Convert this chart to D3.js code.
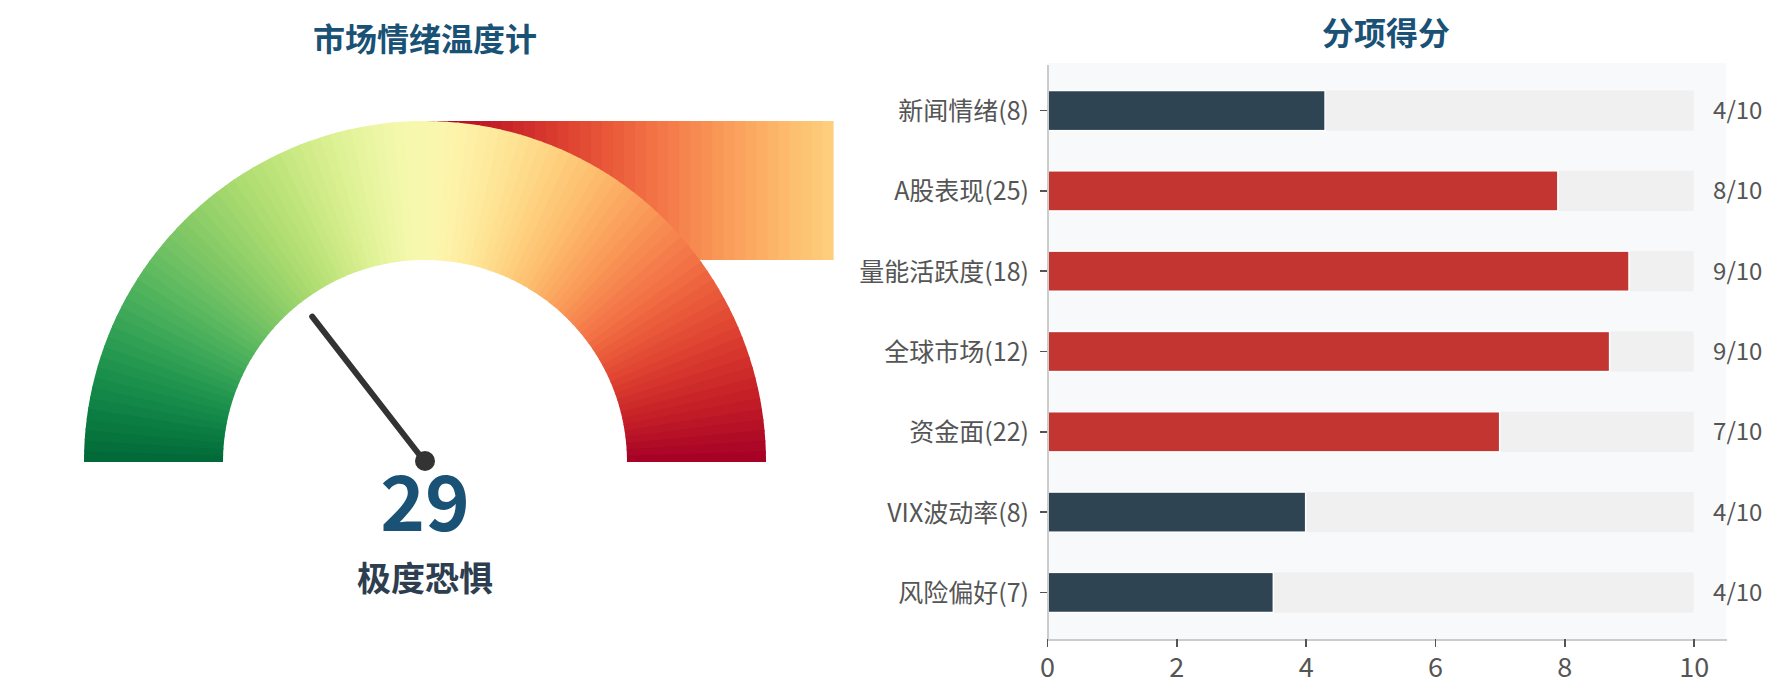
<!DOCTYPE html>
<meta charset="utf-8">

<style>
body {
  margin: 0;
  background: #fff;
  font-family: "Microsoft YaHei", "Noto Sans CJK SC", "Noto Sans", sans-serif;
}
.axis path, .axis line {
  shape-rendering: crispEdges;
}
</style>

<script src="https://d3js.org/d3.v7.min.js"></script>

<script>
  // gauge
  var score = 29;
  var moodLabel = "极度恐惧";

  // sub scores
  var categories = ["新闻情绪(8)", "A股表现(25)", "量能活跃度(18)", "全球市场(12)", "资金面(22)", "VIX波动率(8)", "风险偏好(7)"];
  var values = [4.3, 7.9, 9.0, 8.7, 7.0, 4.0, 3.5];
  var scoreLabels = ["4/10", "8/10", "9/10", "9/10", "7/10", "4/10", "4/10"];
  var xTicks = [0, 2, 4, 6, 8, 10];
</script>

<body>
  <svg id="chart" width="1780" height="700"></svg>
  <script>
    var svg = d3.select("#chart");

    // ---------- gauge ----------
    var cx = 425, cy = 462, outerR = 341, innerR = 202;
    var g = svg.append("g").attr("transform", "translate(" + cx + "," + cy + ")");

    var angle = d3.scaleLinear().domain([0, 100]).range([-Math.PI / 2, Math.PI / 2]);
    var color = function(v) { return d3.interpolateRdYlGn(1 - v / 100); };
    var segs = d3.range(100);

    // the odd strip that sits behind the right half of the dial
    var stripX = d3.scaleLinear().domain([100, 63]).range([0, 408]);
    g.selectAll("rect.strip")
      .data(d3.range(63, 100))
      .enter().append("rect")
      .attr("class", "strip")
      .attr("x", d => stripX(d + 1))
      .attr("y", -outerR)
      .attr("width", d => stripX(d) - stripX(d + 1) + 0.6)
      .attr("height", outerR - innerR)
      .attr("fill", d => color(d + 0.5));

    var arc = d3.arc().innerRadius(innerR).outerRadius(outerR);
    g.selectAll("path.seg")
      .data(segs)
      .enter().append("path")
      .attr("class", "seg")
      .attr("d", d => arc({startAngle: angle(d), endAngle: angle(Math.min(d + 1.15, 100))}))
      .attr("fill", d => color(d + 0.5));

    var a = angle(score), needleLen = 184;
    g.append("line")
      .attr("x1", 0).attr("y1", 0)
      .attr("x2", needleLen * Math.sin(a))
      .attr("y2", -needleLen * Math.cos(a))
      .attr("stroke", "#333").attr("stroke-width", 6).attr("stroke-linecap", "round");
    g.append("circle").attr("r", 10).attr("cy", -1).attr("fill", "#333");

    g.append("text").attr("y", 69).attr("text-anchor", "middle")
      .style("font-size", "76px").style("font-weight", "bold").style("fill", "#1a5276")
      .text(score);
    g.append("text").attr("y", 129).attr("text-anchor", "middle")
      .style("font-size", "34px").style("font-weight", "bold").style("fill", "#2c3e50")
      .text(moodLabel);

    svg.append("text").attr("x", cx).attr("y", 51).attr("text-anchor", "middle")
      .style("font-size", "32px").style("font-weight", "bold").style("fill", "#1a5276")
      .text("市场情绪温度计");

    // ---------- bars ----------
    var plotL = 1047, plotR = 1726, plotT = 64, plotB = 639;
    var x = d3.scaleLinear().domain([0, 10.5]).range([plotL, plotR]);
    var y = d3.scaleBand().domain(categories).range([plotT, plotB]).paddingInner(0.5).paddingOuter(0.33);

    svg.append("text").attr("x", 1386).attr("y", 45).attr("text-anchor", "middle")
      .style("font-size", "32px").style("font-weight", "bold").style("fill", "#1a5276")
      .text("分项得分");

    svg.append("rect").attr("x", plotL).attr("y", plotT - 1).attr("width", plotR - plotL).attr("height", plotB - plotT + 1)
      .attr("fill", "#f8f9fb");

    svg.selectAll("rect.track")
      .data(categories)
      .enter().append("rect")
      .attr("class", "track")
      .attr("x", x(0)).attr("y", d => y(d))
      .attr("width", x(10) - x(0)).attr("height", y.bandwidth())
      .attr("fill", "#f0f0f0");

    svg.selectAll("rect.bar")
      .data(values)
      .enter().append("rect")
      .attr("class", "bar")
      .attr("x", x(0)).attr("y", (d, i) => y(categories[i]))
      .attr("width", d => x(d) - x(0)).attr("height", y.bandwidth())
      .attr("fill", d => d >= 5 ? "#c23531" : "#2e4453")
      .attr("stroke", "#fff").attr("stroke-width", 1.5);

    svg.selectAll("text.score")
      .data(scoreLabels)
      .enter().append("text")
      .attr("class", "score")
      .attr("x", x(10.3)).attr("y", (d, i) => y(categories[i]) + y.bandwidth() / 2)
      .attr("dy", "0.35em")
      .style("font-size", "24px").style("fill", "#555")
      .text(d => d);

    var yAxis = svg.append("g").attr("class", "axis")
      .attr("transform", "translate(" + plotL + ",0)")
      .call(d3.axisLeft(y).tickSize(7).tickSizeOuter(0).tickPadding(11));
    var xAxis = svg.append("g").attr("class", "axis")
      .attr("transform", "translate(0," + plotB + ")")
      .call(d3.axisBottom(x).tickValues(xTicks).tickSize(8).tickSizeOuter(0).tickPadding(11));

    [yAxis, xAxis].forEach(ax => {
      ax.select(".domain").attr("stroke", "#ccc").attr("stroke-width", 2);
      ax.selectAll(".tick line").attr("stroke", "#555").attr("stroke-width", 1.5);
      ax.selectAll(".tick text").style("fill", "#555")
        .style("font-family", "\"Microsoft YaHei\", \"Noto Sans CJK SC\", sans-serif");
    });
    yAxis.selectAll(".tick text").style("font-size", "25px").attr("dy", "0.38em");
    xAxis.selectAll(".tick text").style("font-size", "27px");
  </script>
</body>
